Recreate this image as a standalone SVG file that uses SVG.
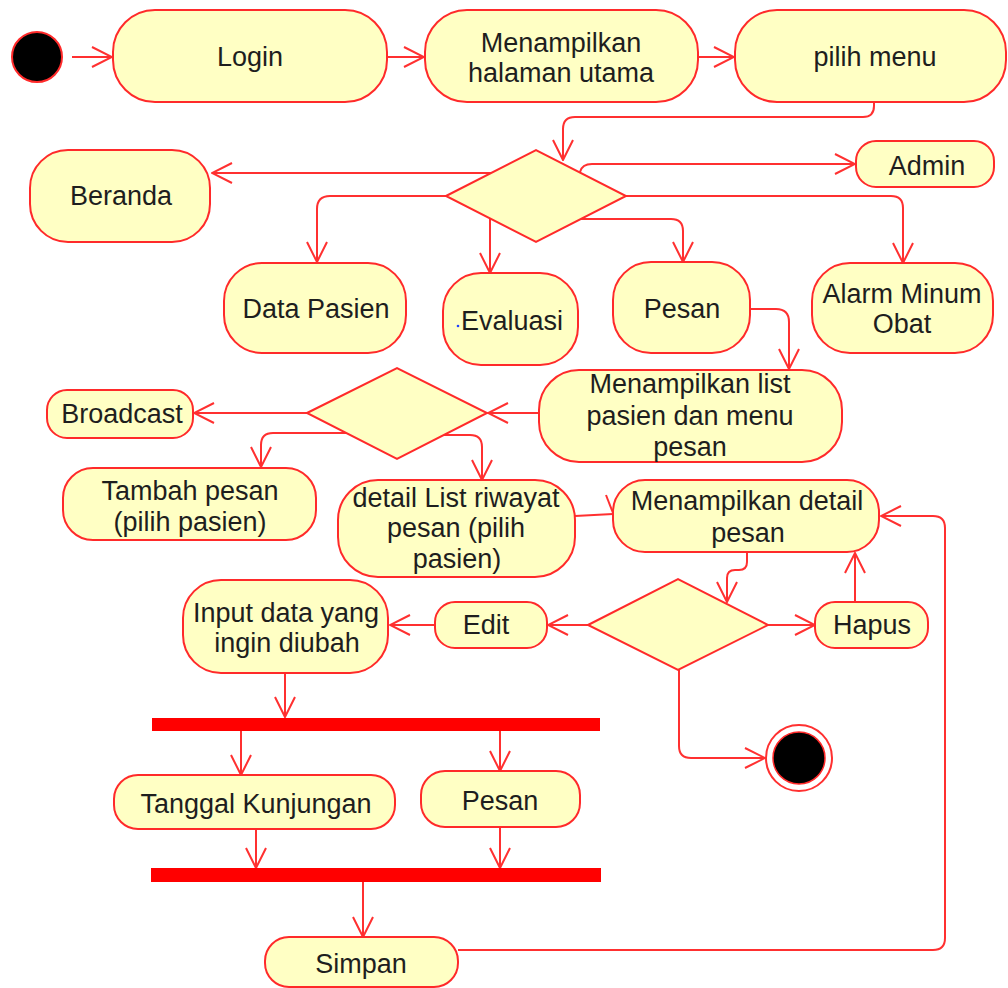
<svg xmlns="http://www.w3.org/2000/svg" width="1008" height="988" viewBox="0 0 1008 988">
  <style>
    .act { fill: #ffffc4; stroke: #ff2a2a; stroke-width: 2; }
    .dec { fill: #ffffc4; stroke: #ff2a2a; stroke-width: 2; }
    .bar { fill: #ff0000; }
    .lbl { font-family: "Liberation Sans", Arial, sans-serif; font-size: 27px; fill: #1e1e1e; text-anchor: middle; }
    .flow path, .flow line, .flow polyline { fill: none; stroke: #ff3030; stroke-width: 2; }
  </style>
  <defs>
    <marker id="open" viewBox="0 0 22 22" refX="21" refY="11" markerWidth="22" markerHeight="22" markerUnits="userSpaceOnUse" orient="auto">
      <path d="M1,1 L21,11 L1,21" fill="none" stroke="#ff3030" stroke-width="2"/>
    </marker>
  </defs>

  <rect width="1008" height="988" fill="#ffffff"/>

  <!-- connectors -->
  <g id="connectors" class="flow">
    <line x1="72" y1="57" x2="112" y2="57" marker-end="url(#open)"/>
    <line x1="388" y1="57" x2="424" y2="57" marker-end="url(#open)"/>
    <line x1="699" y1="57" x2="734" y2="57" marker-end="url(#open)"/>
    <path d="M874,102 L874,106 Q874,117 863,117 L575,117 Q563,117 563,129 L563,160" marker-end="url(#open)"/>
    <line x1="491" y1="173" x2="212" y2="173" marker-end="url(#open)"/>
    <path d="M580,172 Q582,164 592,164 L855,164" marker-end="url(#open)"/>
    <path d="M446,196 L330,196 Q317,196 317,209 L317,262" marker-end="url(#open)"/>
    <path d="M626,196 L891,196 Q903,196 903,208 L903,263" marker-end="url(#open)"/>
    <line x1="490" y1="219" x2="490" y2="273" marker-end="url(#open)"/>
    <path d="M581,219 L671,219 Q683,219 683,231 L683,262" marker-end="url(#open)"/>
    <path d="M750,309 L776,309 Q789,309 789,322 L789,369" marker-end="url(#open)"/>
    <line x1="539" y1="413" x2="488" y2="413" marker-end="url(#open)"/>
    <line x1="307" y1="413" x2="194" y2="413" marker-end="url(#open)"/>
    <path d="M346,433 L273,433 Q261,433 261,445 L261,467" marker-end="url(#open)"/>
    <path d="M444,435 L470,435 Q482,435 482,447 L482,480" marker-end="url(#open)"/>
    <line x1="575" y1="516" x2="613" y2="514"/>
    <polyline points="606,495 613,513"/>
    <path d="M747,552 L747,562 Q747,570 739,570 L735,570 Q727,570 727,578 L727,602" marker-end="url(#open)"/>
    <line x1="768" y1="625" x2="815" y2="625" marker-end="url(#open)"/>
    <line x1="855" y1="602" x2="855" y2="553" marker-end="url(#open)"/>
    <line x1="588" y1="625" x2="548" y2="625" marker-end="url(#open)"/>
    <line x1="435" y1="625" x2="390" y2="625" marker-end="url(#open)"/>
    <line x1="285" y1="673" x2="285" y2="717" marker-end="url(#open)"/>
    <line x1="241" y1="731" x2="241" y2="775" marker-end="url(#open)"/>
    <line x1="500" y1="731" x2="500" y2="771" marker-end="url(#open)"/>
    <line x1="256" y1="829" x2="256" y2="868" marker-end="url(#open)"/>
    <line x1="500" y1="827" x2="500" y2="868" marker-end="url(#open)"/>
    <line x1="363" y1="882" x2="363" y2="937" marker-end="url(#open)"/>
    <path d="M458,950 L933,950 Q945,950 945,938 L945,528 Q945,516 933,516 L881,516" marker-end="url(#open)"/>
    <path d="M679,670 L679,746 Q679,758 691,758 L765,758" marker-end="url(#open)"/>
  </g>

  <!-- start -->
  <g id="start">
    <circle cx="37" cy="57" r="25" fill="#000000" stroke="#ff2a2a" stroke-width="2"/>
  </g>

  <g id="login">
    <rect class="act" x="113" y="10" width="274" height="92" rx="42"/>
    <text class="lbl" x="250" y="66">Login</text>
  </g>
  <g id="halaman-utama">
    <rect class="act" x="425" y="10" width="273" height="92" rx="42"/>
    <text class="lbl" x="561" y="52">Menampilkan</text>
    <text class="lbl" x="561" y="82">halaman utama</text>
  </g>
  <g id="pilih-menu">
    <rect class="act" x="735" y="10" width="271" height="92" rx="42"/>
    <text class="lbl" x="875" y="66">pilih menu</text>
  </g>

  <g id="decision-menu">
    <polygon class="dec" points="446,196 536,150 626,196 536,242"/>
  </g>

  <g id="beranda">
    <rect class="act" x="30" y="150" width="180" height="92" rx="38"/>
    <text class="lbl" x="121" y="205">Beranda</text>
  </g>
  <g id="admin">
    <rect class="act" x="856" y="141" width="138" height="46" rx="20"/>
    <text class="lbl" x="927" y="175">Admin</text>
  </g>
  <g id="data-pasien">
    <rect class="act" x="224" y="263" width="182" height="90" rx="38"/>
    <text class="lbl" x="316" y="318">Data Pasien</text>
  </g>
  <g id="evaluasi">
    <rect class="act" x="443" y="273" width="135" height="92" rx="38"/>
    <circle cx="458" cy="326" r="1.3" fill="#2040ff"/>
    <text class="lbl" x="512" y="330">Evaluasi</text>
  </g>
  <g id="pesan">
    <rect class="act" x="613" y="262" width="137" height="91" rx="38"/>
    <text class="lbl" x="682" y="318">Pesan</text>
  </g>
  <g id="alarm">
    <rect class="act" x="812" y="263" width="181" height="90" rx="38"/>
    <text class="lbl" x="902" y="303">Alarm Minum</text>
    <text class="lbl" x="902" y="333">Obat</text>
  </g>

  <g id="list-pasien">
    <rect class="act" x="539" y="370" width="303" height="92" rx="40"/>
    <text class="lbl" x="690" y="393">Menampilkan list</text>
    <text class="lbl" x="690" y="425">pasien dan menu</text>
    <text class="lbl" x="690" y="456">pesan</text>
  </g>

  <g id="decision-pesan">
    <polygon class="dec" points="307,413 397,368 487,413 397,459"/>
  </g>

  <g id="broadcast">
    <rect class="act" x="47" y="390" width="146" height="48" rx="20"/>
    <text class="lbl" x="122" y="423">Broadcast</text>
  </g>
  <g id="tambah-pesan">
    <rect class="act" x="63" y="468" width="253" height="72" rx="30"/>
    <text class="lbl" x="190" y="500">Tambah pesan</text>
    <text class="lbl" x="190" y="531">(pilih pasien)</text>
  </g>
  <g id="riwayat">
    <rect class="act" x="338" y="480" width="237" height="97" rx="40"/>
    <text class="lbl" x="456" y="507">detail List riwayat</text>
    <text class="lbl" x="456" y="537">pesan (pilih</text>
    <text class="lbl" x="457" y="568">pasien)</text>
  </g>
  <g id="detail-pesan">
    <rect class="act" x="613" y="480" width="266" height="72" rx="32"/>
    <text class="lbl" x="747" y="510">Menampilkan detail</text>
    <text class="lbl" x="748" y="542">pesan</text>
  </g>

  <g id="decision-detail">
    <polygon class="dec" points="588,625 678,579 768,625 678,670"/>
  </g>

  <g id="hapus">
    <rect class="act" x="815" y="602" width="113" height="46" rx="20"/>
    <text class="lbl" x="872" y="634">Hapus</text>
  </g>
  <g id="edit">
    <rect class="act" x="435" y="602" width="112" height="46" rx="20"/>
    <text class="lbl" x="486" y="634">Edit</text>
  </g>
  <g id="input-data">
    <rect class="act" x="183" y="580" width="205" height="93" rx="38"/>
    <text class="lbl" x="286" y="622">Input data yang</text>
    <text class="lbl" x="287" y="652">ingin diubah</text>
  </g>

  <g id="fork">
    <rect class="bar" x="152" y="718" width="448" height="13"/>
  </g>

  <g id="tanggal">
    <rect class="act" x="114" y="775" width="281" height="54" rx="24"/>
    <text class="lbl" x="256" y="813">Tanggal Kunjungan</text>
  </g>
  <g id="pesan-edit">
    <rect class="act" x="421" y="771" width="159" height="56" rx="24"/>
    <text class="lbl" x="500" y="810">Pesan</text>
  </g>

  <g id="join">
    <rect class="bar" x="151" y="868" width="450" height="14"/>
  </g>

  <g id="simpan">
    <rect class="act" x="265" y="937" width="193" height="50" rx="24"/>
    <text class="lbl" x="361" y="973">Simpan</text>
  </g>

  <g id="end">
    <circle cx="799" cy="758" r="33" fill="#ffffff" stroke="#ff3030" stroke-width="2"/>
    <circle cx="799" cy="758" r="26" fill="#000000" stroke="#ff2a2a" stroke-width="1.5"/>
  </g>
</svg>
